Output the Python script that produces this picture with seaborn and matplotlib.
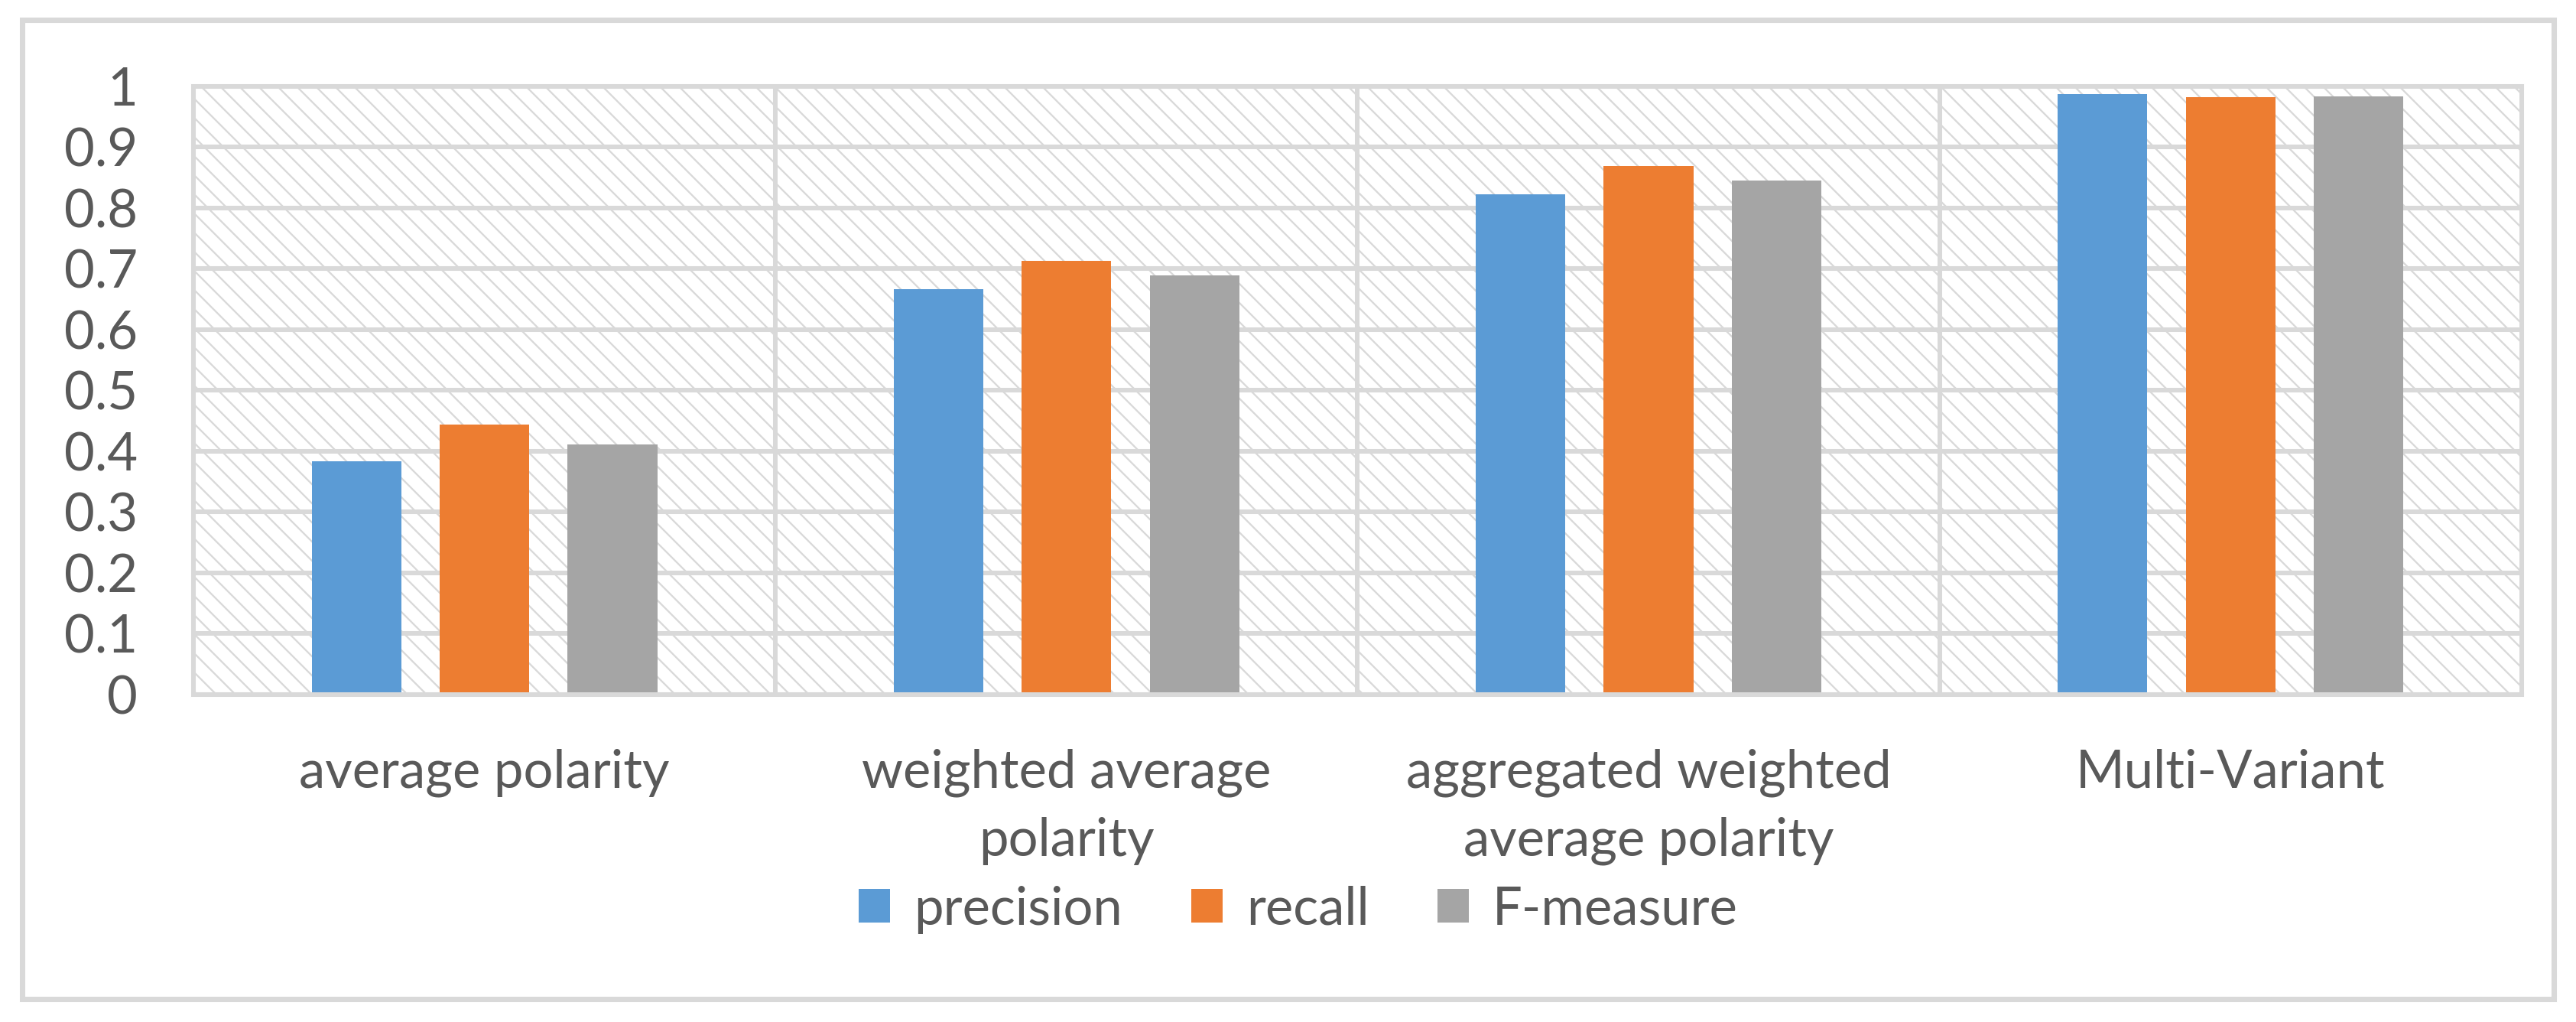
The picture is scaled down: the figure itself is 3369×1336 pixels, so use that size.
import numpy as np
import pandas as pd
import matplotlib.pyplot as plt
import matplotlib.patches as mpatches
import seaborn as sns

# ------------------------------------------------------------
# Data
# ------------------------------------------------------------
kategori = ['average polarity', 'weighted average\npolarity',
            'aggregated weighted\naverage polarity', 'Multi-Variant']
metrik = ['precision', 'recall', 'F-measure']
precision = [0.383, 0.666, 0.823, 0.987]
recall = [0.444, 0.713, 0.869, 0.982]
f_measure = [0.411, 0.689, 0.845, 0.984]
y_ticks = [0, 0.1, 0.2, 0.3, 0.4, 0.5, 0.6, 0.7, 0.8, 0.9, 1.0]
y_tick_labels = ['0', '0.1', '0.2', '0.3', '0.4', '0.5',
                 '0.6', '0.7', '0.8', '0.9', '1']
warna = ['#5B9BD5', '#ED7D31', '#A5A5A5']

df = pd.DataFrame({
    'kategori': kategori * 3,
    'metrik': np.repeat(metrik, len(kategori)),
    'nilai': precision + recall + f_measure,
})

sns.set_style('white')
plt.rcParams['font.family'] = ['Lato', 'DejaVu Sans']
plt.rcParams['hatch.linewidth'] = 1.1

abu = '#D9D9D9'
teks = '#595959'
DPI = 150

fig = plt.figure(figsize=(3369 / DPI, 1336 / DPI), dpi=DPI)
ax = fig.add_axes([0.0751, 0.3204, 0.9038, 0.5951])

# latar belakang bermotif garis diagonal
bg = mpatches.Rectangle((0, 0), 1, 1, transform=ax.transAxes,
                        facecolor='white', edgecolor=abu, lw=0,
                        hatch='\\\\', zorder=0.2)
ax.add_patch(bg)

sns.barplot(data=df, x='kategori', y='nilai', hue='metrik',
            palette=warna, saturation=1, width=0.66, gap=0.3,
            errorbar=None, linewidth=0, ax=ax)

ax.set_xlim(-0.5, 3.5)
ax.set_ylim(0, 1)
ax.set_yticks(y_ticks)
ax.set_yticklabels(y_tick_labels)
ax.set_xticks([0.5, 1.5, 2.5], minor=True)
ax.set_axisbelow(True)
ax.grid(axis='y', which='major', color=abu, lw=2.9)
ax.grid(axis='x', which='minor', color=abu, lw=2.9)
ax.grid(axis='x', which='major', visible=False)
ax.tick_params(which='both', length=0, labelsize=33, colors=teks)
ax.tick_params(axis='y', pad=35)
ax.tick_params(axis='x', pad=34)
for lbl in ax.get_xticklabels():
    lbl.set_linespacing(1.5)
for sp in ax.spines.values():
    sp.set_color(abu)
    sp.set_linewidth(2.9)
ax.set_xlabel('')
ax.set_ylabel('')

# legenda di bawah
handles, labels = ax.get_legend_handles_labels()
ax.get_legend().remove()
fig.legend(handles, labels, loc='center', bbox_to_anchor=(0.504, 0.110),
           ncol=3, frameon=False, fontsize=33, handlelength=0.6,
           handleheight=0.6, handletextpad=0.45, columnspacing=1.3,
           labelcolor=teks)

# bingkai luar chart
fig.add_artist(mpatches.Rectangle((0.0086, 0.0225), 0.9828, 0.958,
                                  transform=fig.transFigure, fill=False,
                                  edgecolor=abu, lw=3.4))

fig.savefig('out.png', dpi=DPI)
